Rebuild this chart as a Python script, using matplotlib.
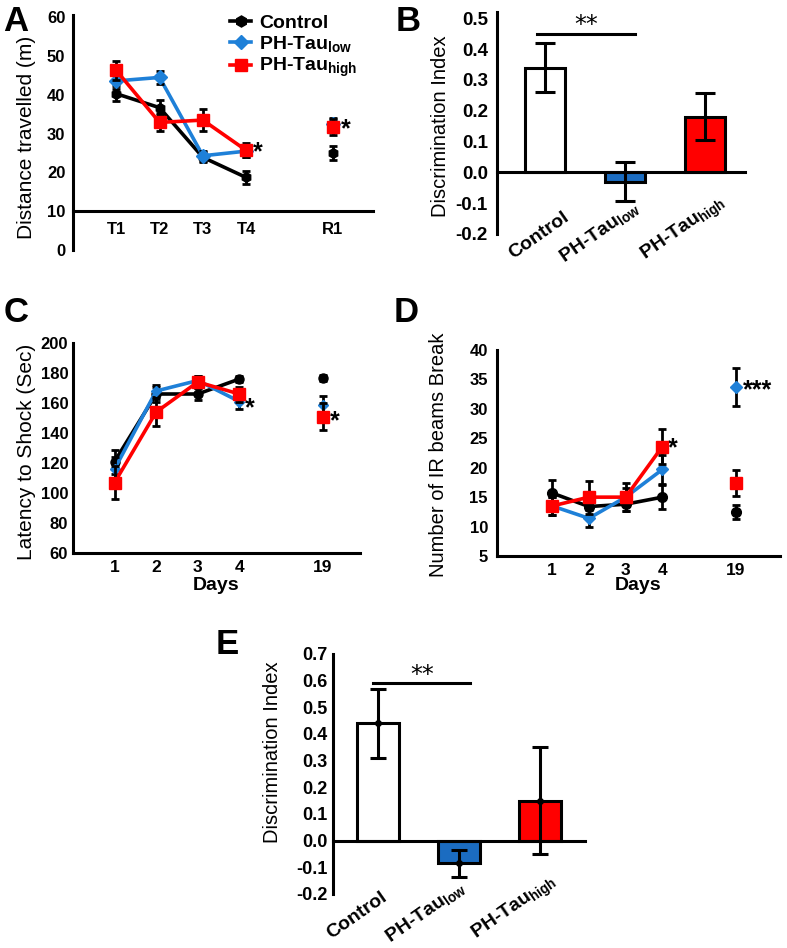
import numpy as np
import matplotlib
matplotlib.use('Agg')
import matplotlib.pyplot as plt
from matplotlib.lines import Line2D
from matplotlib.transforms import ScaledTranslation

plt.rcParams['font.family'] = ['Liberation Sans', 'DejaVu Sans']
plt.rcParams['mathtext.fontset'] = 'custom'
plt.rcParams['mathtext.rm'] = 'Liberation Sans'
plt.rcParams['mathtext.bf'] = 'Liberation Sans:bold'
plt.rcParams['mathtext.it'] = 'Liberation Sans:italic'

# ---------------- data ----------------
groups = ['Control', r'PH-Tau$_\mathbf{low}$', r'PH-Tau$_\mathbf{high}$']

A_labels = ['T1', 'T2', 'T3', 'T4', 'R1']
A_ctrl = [40.3, 36.7, 23.9, 18.7, 25.0]
A_ctrl_err = [2.0, 2.0, 1.3, 1.6, 1.8]
A_low = [43.6, 44.5, 24.3, 25.5, 32.6]
A_low_err = [2.0, 1.6, 1.3, 1.6, 1.5]
A_high = [46.3, 32.9, 33.5, 25.7, 31.7]
A_high_err = [2.4, 2.3, 2.9, 1.8, 2.0]

B_vals = [0.34, -0.03, 0.18]
B_err = [0.078, 0.062, 0.076]

C_labels = ['1', '2', '3', '4', '19']
C_ctrl = [121, 166, 166, 176, 177]
C_ctrl_err = [8, 5, 4, 2, 2]
C_low = [116, 168, 175, 161, 159]
C_low_err = [8, 4, 3, 5, 6]
C_high = [107, 154, 174, 166, 151]
C_high_err = [11, 9, 4, 5, 9]

D_labels = ['1', '2', '3', '4', '19']
D_ctrl = [15.7, 13.4, 13.8, 15.0, 12.5]
D_ctrl_err = [2.2, 1.6, 1.2, 2.0, 1.2]
D_low = [13.5, 11.4, 15.0, 19.7, 33.7]
D_low_err = [1.5, 1.5, 1.5, 2.5, 3.2]
D_high = [13.5, 15.0, 15.0, 23.6, 17.4]
D_high_err = [1.5, 2.8, 2.4, 3.0, 2.2]

E_vals = [0.44, -0.085, 0.15]
E_err = [0.13, 0.05, 0.20]

# ---------------- style ----------------
BLACK = '#000000'
BLUE = '#1e80d8'
RED = '#ff0000'
BAR_BLUE = '#1b6cc1'
SPW = 2.2

W, H = 787, 948
fig = plt.figure(figsize=(W / 100, H / 100), dpi=100)


def add_ax(l, r, t, b):
    return fig.add_axes([l / W, 1 - b / H, (r - l) / W, (b - t) / H])


def ftext(x, y, s, **kw):
    fig.text(x / W, 1 - y / H, s, **kw)


def style(ax, ypad, xpad, ysize=12, xsize=12):
    for s in ['top', 'right']:
        ax.spines[s].set_visible(False)
    for s in ['left', 'bottom']:
        ax.spines[s].set_linewidth(SPW)
    ax.tick_params(axis='both', length=0)
    ax.tick_params(axis='y', pad=ypad, labelsize=ysize)
    ax.tick_params(axis='x', pad=xpad, labelsize=xsize)
    for lb in ax.get_yticklabels() + ax.get_xticklabels():
        lb.set_fontweight('bold')


def line_panel(ax, labels, series):
    n = len(labels) - 1
    xpos = np.r_[np.arange(1, n + 1), n + 2]
    z = 2
    for vals, err, color, marker, ms in series:
        vals = np.asarray(vals, float)
        ax.plot(xpos[:n], vals[:n], color=color, lw=2.6, zorder=z, solid_capstyle='round')
        ax.errorbar(xpos, vals, yerr=err, fmt='none', ecolor='black',
                    elinewidth=2.0, capsize=3, capthick=2.0, zorder=z + 0.5)
        ax.plot(xpos, vals, ls='none', marker=marker, color=color, ms=ms,
                mec=color, zorder=z + 0.7)
        z += 1
    ax.set_xticks(xpos)
    ax.set_xticklabels(labels)
    return xpos


def star(ax, x, y, s, dx, dy=0, size=18):
    ax.annotate(s, xy=(x, y), xytext=(dx * 0.72, dy * 0.72), textcoords='offset points',
                ha='left', va='center', fontsize=size, fontweight='bold')


def bar_panel(ax, vals, err, width, capsize, dot, offsets, lsize):
    pos = np.arange(1, len(vals) + 1)
    ax.bar(pos, vals, width=width, color=['white', BAR_BLUE, RED],
           edgecolor='black', linewidth=2.2, zorder=2)
    ax.errorbar(pos, vals, yerr=err, fmt='o' if dot else 'none', ms=4, color='black',
                ecolor='black', elinewidth=2.2, capsize=capsize, capthick=2.2, zorder=3)
    ax.spines['bottom'].set_position(('data', 0))
    ax.set_xticks(pos)
    ax.set_xticklabels([])
    for p, g, (dx, dy) in zip(pos, groups, offsets):
        tr = ax.transData + ScaledTranslation(dx / 100, dy / 100, fig.dpi_scale_trans)
        ax.text(p, 0, g, transform=tr, rotation=35, ha='right', va='top',
                rotation_mode='anchor', fontsize=lsize, fontweight='bold', clip_on=False)
    return pos


# ---------------- Panel A ----------------
axA = add_ax(73, 373, 15, 250)
xA = line_panel(axA, A_labels, [
    (A_ctrl, A_ctrl_err, BLACK, 'h', 7),
    (A_low, A_low_err, BLUE, 'D', 7),
    (A_high, A_high_err, RED, 's', 8),
])
axA.set_xlim(0, 6.93)
axA.set_ylim(0, 60.6)
axA.set_yticks([0, 10, 20, 30, 40, 50, 60])
axA.spines['bottom'].set_position(('data', 10))
style(axA, ypad=5.5, xpad=8, ysize=12, xsize=12)
star(axA, xA[3], A_high[3], '*', 7, -2)
star(axA, xA[4], A_low[4], '*', 8, -6)
handles = [Line2D([], [], color=BLACK, marker='h', ms=8, lw=2.6),
           Line2D([], [], color=BLUE, marker='D', ms=7, lw=2.6),
           Line2D([], [], color=RED, marker='s', ms=8, lw=2.6)]
fig.legend(handles, groups, loc='upper left', bbox_to_anchor=(230 / W, 1 - 14 / H),
           frameon=False, handlelength=1.1, handletextpad=0.4, labelspacing=0.12,
           borderpad=0, borderaxespad=0, prop={'size': 14, 'weight': 'bold'})
ftext(27, 137, 'Distance travelled (m)', rotation=90, ha='center', va='center', fontsize=15)

# ---------------- Panel B ----------------
axB = add_ax(497, 745, 12, 234)
pB = bar_panel(axB, B_vals, B_err, 0.5, 7, False, [(18, -36), (7, -25), (12, -19)], 14)
axB.set_xlim(0.4, 3.5)
axB.set_ylim(-0.2, 0.52)
axB.set_yticks(np.round(np.arange(-0.2, 0.51, 0.1), 1))
axB.set_yticklabels([f'{v:.1f}' for v in np.arange(-0.2, 0.51, 0.1)])
style(axB, ypad=6.5, xpad=0, ysize=13.5)
sigB = 0.45
axB.plot([pB[0] - 0.1, pB[1] + 0.12], [sigB, sigB], color='black', lw=2.2, clip_on=False)
axB.text((pB[0] + pB[1]) / 2 + 0.01, sigB - 0.01, '**', ha='center', va='bottom',
         fontsize=17, family='DejaVu Sans')
ftext(440, 126, 'Discrimination Index', rotation=90, ha='center', va='center', fontsize=14.5)

# ---------------- Panel C ----------------
axC = add_ax(73, 360, 343, 553)
xC = line_panel(axC, C_labels, [
    (C_ctrl, C_ctrl_err, BLACK, 'o', 6.5),
    (C_low, C_low_err, BLUE, 'D', 5),
    (C_high, C_high_err, RED, 's', 9),
])
axC.set_xlim(0, 6.9)
axC.set_ylim(60, 200)
axC.set_yticks(np.arange(60, 201, 20))
style(axC, ypad=3.5, xpad=5, ysize=12, xsize=12.5)
star(axC, xC[3], C_low[3], '*', 6, -7)
star(axC, xC[4], C_high[4], '*', 7, -5)
ftext(27, 452, 'Latency to Shock (Sec)', rotation=90, ha='center', va='center', fontsize=15)
ftext(216, 586, 'Days', ha='center', va='center', fontsize=14, fontweight='bold')

# ---------------- Panel D ----------------
axD = add_ax(497, 780, 350, 556)
xD = line_panel(axD, D_labels, [
    (D_ctrl, D_ctrl_err, BLACK, 'o', 7),
    (D_low, D_low_err, BLUE, 'D', 6),
    (D_high, D_high_err, RED, 's', 8.5),
])
axD.set_xlim(-0.5, 7.2)
axD.set_ylim(5, 40)
axD.set_yticks(np.arange(5, 41, 5))
style(axD, ypad=6.5, xpad=5, ysize=12, xsize=12.5)
star(axD, xD[3], D_high[3], '*', 6, -2)
star(axD, xD[4], D_low[4], '***', 7, -3)
ftext(438, 455, 'Number of IR beams Break', rotation=90, ha='center', va='center', fontsize=14.5)
ftext(638, 586, 'Days', ha='center', va='center', fontsize=14, fontweight='bold')

# ---------------- Panel E ----------------
axE = add_ax(333, 585, 654, 894)
pE = bar_panel(axE, E_vals, E_err, 0.52, 6, True, [(2, -48), (-1, -37), (9, -30)], 14)
axE.set_xlim(0.44, 3.56)
axE.set_ylim(-0.2, 0.7)
axE.set_yticks(np.round(np.arange(-0.2, 0.71, 0.1), 1))
axE.set_yticklabels([f'{v:.1f}' for v in np.arange(-0.2, 0.71, 0.1)])
style(axE, ypad=4, xpad=0, ysize=13)
sigE = 0.59
axE.plot([pE[0] - 0.07, pE[1] + 0.14], [sigE, sigE], color='black', lw=2.2, clip_on=False)
axE.text((pE[0] + pE[1]) / 2 + 0.04, sigE - 0.015, '**', ha='center', va='bottom',
         fontsize=17, family='DejaVu Sans')
ftext(273, 752, 'Discrimination Index', rotation=90, ha='center', va='center', fontsize=14.5)

# ---------------- panel letters ----------------
for x, y, s in [(3, 5, 'A'), (396, 5, 'B'), (4, 296, 'C'), (394, 296, 'D'), (216, 628, 'E')]:
    ftext(x, y, s, ha='left', va='top', fontsize=25, fontweight='bold')

fig.savefig('out.png', dpi=100)
